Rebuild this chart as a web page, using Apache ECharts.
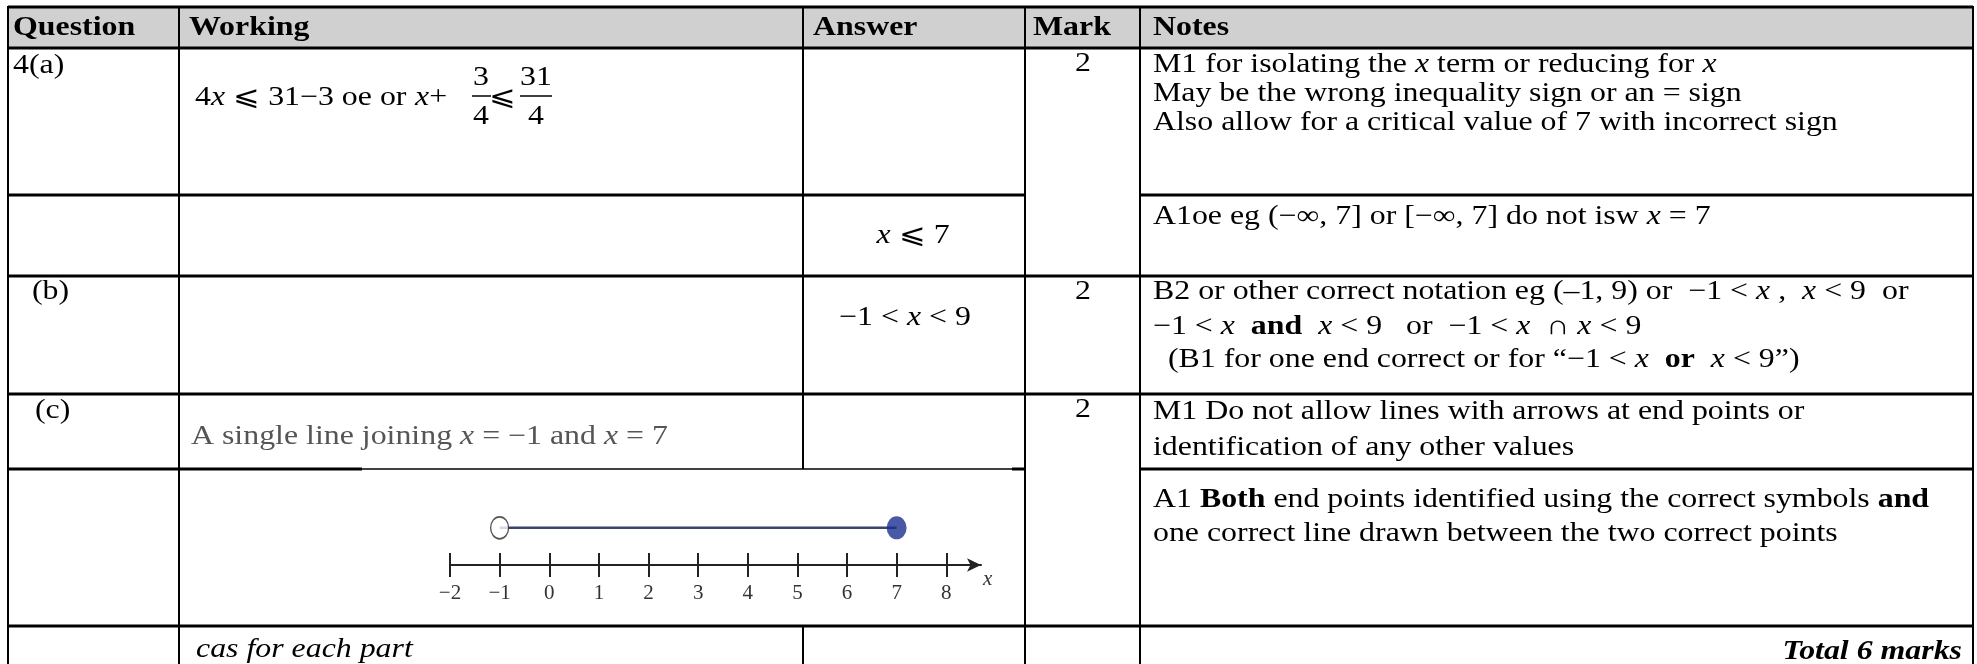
<!DOCTYPE html>
<html>
<head>
<meta charset="utf-8">
<title>Mark scheme 4</title>
<script src="https://cdn.jsdelivr.net/npm/echarts/dist/echarts.min.js"></script>
<style>
  html, body { margin: 0; padding: 0; background: #fff; }
  #main { width: 1977px; height: 664px; }
</style>
</head>
<body>
<div id="main"></div>
<script>
// table texts
const headers = ['Question', 'Working', 'Answer', 'Mark', 'Notes']
const questions = ['4(a)', '(b)', '(c)']
const marks = ['2', '2', '2']
const answers = ['{i|x} ⩽ 7', '−1 < {i|x} < 9']
const notesA = [
  'M1 for isolating the {i|x} term or reducing for {i|x}',
  'May be the wrong inequality sign or an = sign',
  'Also allow for a critical value of 7 with incorrect sign'
]
const notesA2 = ['A1oe eg (−∞, 7] or [−∞, 7] do not isw {i|x} = 7']
const notesB = [
  'B2 or other correct notation eg (–1, 9) or  −1 < {i|x} ,  {i|x} < 9  or',
  '−1 < {i|x}  {b|and}  {i|x} < 9   or  −1 < {i|x}  ∩ {i|x} < 9',
  '(B1 for one end correct or for “−1 < {i|x}  {b|or}  {i|x} < 9”)'
]
const notesC = [
  'M1 Do not allow lines with arrows at end points or',
  'identification of any other values'
]
const notesC2 = [
  'A1 {b|Both} end points identified using the correct symbols {b|and}',
  'one correct line drawn between the two correct points'
]
const workingC = 'A single line joining {i|x} = −1 and {i|x} = 7'
const footLeft = 'cas for each part'
const footRight = 'Total 6 marks'

// number line
const tickValues = [-2, -1, 0, 1, 2, 3, 4, 5, 6, 7, 8]
const openEnd = -1
const closedEnd = 7

const SERIF = '"Liberation Serif", "Times New Roman", serif'
const FS = 27
const SX = 1.18
const RICH = {
  i: {fontStyle: 'italic', fontSize: FS, fontFamily: SERIF},
  b: {fontWeight: 'bold', fontSize: FS, fontFamily: SERIF}
}

// column edges
const colX = [8, 179, 803, 1025, 1140, 1973]
const T = (x, y, text, opt) => {
  opt = opt || {}
  return {
    type: 'text', x: x, y: y, scaleX: SX, z: 10,
    style: {
      text: text, fontSize: FS, fontFamily: SERIF,
      fontWeight: opt.bold ? 'bold' : 'normal',
      fontStyle: opt.italic ? 'italic' : 'normal',
      fill: opt.fill || '#000',
      align: opt.align || 'left', verticalAlign: 'middle',
      rich: RICH
    }
  }
}
const L = (x1, y1, x2, y2, w) => ({
  type: 'line', z: 5,
  shape: {x1: x1, y1: y1, x2: x2, y2: y2},
  style: {stroke: '#000', lineWidth: w}
})

let els = []
// header background
els.push({type: 'rect', z: 1, shape: {x: 8, y: 7, width: 1965, height: 41}, style: {fill: '#d0d0d0'}})
// horizontal rules
els.push(L(8, 7, 1973, 7, 3))
els.push(L(8, 48, 1973, 48, 3))
els.push(L(8, 195, 1025, 195, 3), L(1140, 195, 1973, 195, 3))
els.push(L(8, 276, 1973, 276, 3))
els.push(L(8, 394, 1973, 394, 3))
els.push(L(8, 469, 362, 469, 3), L(362, 469, 1012, 469, 1.5), L(1012, 469, 1025, 469, 3), L(1140, 469, 1973, 469, 3))
els.push(L(8, 626, 1973, 626, 3))
// vertical rules (the pasted number line hides the Working|Answer rule)
colX.forEach(x => {
  if (x === 803) {
    els.push(L(x, 6, x, 469, 2), L(x, 626, x, 664, 2))
  } else {
    els.push(L(x, 6, x, 664, 2))
  }
})

// header
const headX = [13, 189, 813, 1033, 1153]
headers.forEach((h, i) => els.push(T(headX[i], 28, h, {bold: true})))

// question labels
els.push(T(13, 66, questions[0]), T(32, 292, questions[1]), T(35, 411, questions[2]))
// marks
;[64, 292, 410].forEach((y, i) => els.push(T(1083, y, marks[i], {align: 'center'})))
// answers
els.push(T(913, 236, answers[0], {align: 'center'}))
els.push(T(905, 318, answers[1], {align: 'center'}))

// working (a): 4x <= 31-3 oe or x + 3/4 <= 31/4
const FY = 98
els.push(T(195, FY, '4{i|x} ⩽ 31−3 oe or'))
els.push(T(415, FY, '{i|x}+'))
els.push(T(481, FY - 20, '3', {align: 'center'}), T(481, FY + 19, '4', {align: 'center'}))
els.push(L(472, FY - 2, 491, FY - 2, 1.5))
els.push(T(503, FY, '⩽', {align: 'center'}))
els.push(T(536, FY - 20, '31', {align: 'center'}), T(536, FY + 19, '4', {align: 'center'}))
els.push(L(520, FY - 2, 552, FY - 2, 1.5))
// working (c)
els.push(T(191, 437, workingC, {fill: '#555'}))

// notes
notesA.forEach((t, i) => els.push(T(1153, 65 + i * 29, t)))
els.push(T(1153, 217, notesA2[0]))
els.push(T(1153, 292, notesB[0]), T(1153, 327, notesB[1]), T(1168, 360, notesB[2]))
notesC.forEach((t, i) => els.push(T(1153, 412 + i * 36, t)))
notesC2.forEach((t, i) => els.push(T(1153, 500 + i * 34, t)))

// footer
els.push(T(196, 650, footLeft, {italic: true}))
els.push(T(1962, 652, footRight, {bold: true, italic: true, align: 'right'}))

// number line
const LINE_Y = 0.62
const fmt = v => v < 0 ? '−' + Math.abs(v) : String(v)
const tickStyle = {color: '#222', width: 2}

let myChart = echarts.init(document.getElementById('main'))
let option = {
  backgroundColor: '#fff',
  animation: false,
  grid: {left: 450, top: 505, width: 531, height: 60},
  xAxis: [{
    type: 'value', min: -2, max: 8.7, position: 'bottom',
    splitLine: {show: false},
    axisLine: {show: true, onZero: false, lineStyle: tickStyle, symbol: ['none', 'arrow'], symbolSize: [10, 14]},
    axisTick: {show: true, length: 12, lineStyle: tickStyle, customValues: tickValues},
    axisLabel: {
      show: true, margin: 18, color: '#333', fontSize: 21, fontFamily: SERIF,
      customValues: tickValues, formatter: fmt
    },
    name: 'x', nameLocation: 'end', nameGap: 2,
    nameTextStyle: {fontStyle: 'italic', fontFamily: SERIF, fontSize: 21, color: '#333', verticalAlign: 'top', padding: [4, 0, 0, 0]}
  }, {
    type: 'value', min: -2, max: 8.7, position: 'bottom',
    splitLine: {show: false},
    axisLine: {show: false, onZero: false},
    axisTick: {show: true, inside: true, length: 12, lineStyle: tickStyle, customValues: tickValues},
    axisLabel: {show: false}
  }],
  yAxis: {type: 'value', min: 0, max: 1, show: false},
  series: [{
    type: 'line', xAxisIndex: 0, symbol: 'none',
    data: [[openEnd, LINE_Y], [closedEnd, LINE_Y]],
    lineStyle: {color: '#3b4470', width: 2.5}, z: 2
  }, {
    type: 'scatter', xAxisIndex: 0,
    data: [[openEnd, LINE_Y]], symbol: 'circle', symbolSize: [18, 22],
    itemStyle: {color: '#fff', borderColor: '#2a2a2a', borderWidth: 1.5}, z: 3
  }, {
    type: 'scatter', xAxisIndex: 0,
    data: [[closedEnd, LINE_Y]], symbol: 'circle', symbolSize: [20, 23],
    itemStyle: {color: '#1c2f8f'}, z: 3
  }],
  graphic: {elements: els}
}
myChart.setOption(option)
</script>
</body>
</html>
